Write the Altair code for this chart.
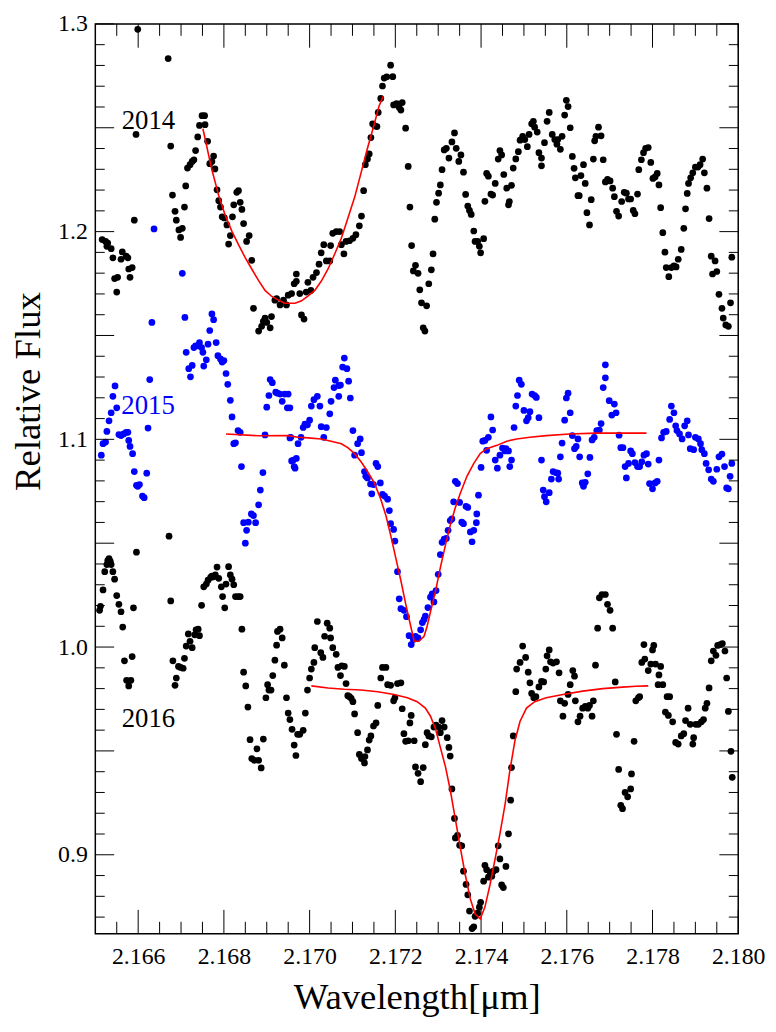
import altair as alt
import pandas as pd

# ---------------- data ----------------
spec_2014 = [
(2.16516,1.1962),(2.16524,1.1953),(2.16529,1.1945),(2.16527,1.1929),(2.16537,1.1918),(2.16541,1.1874),(2.16545,1.1774),(2.16552,1.1780),(2.16550,1.1709),(2.16560,1.1867),
(2.16563,1.1902),(2.16572,1.1882),(2.16576,1.1874),(2.16578,1.1820),(2.16586,1.1827),(2.16581,1.1780),(2.16591,1.2055),(2.16595,1.2468),(2.16599,1.2974),(2.16670,1.2833),
(2.16676,1.2412),(2.16680,1.2176),(2.16686,1.2098),(2.16689,1.2055),(2.16695,1.2008),(2.16699,1.1972),(2.16703,1.2016),(2.16708,1.2118),(2.16711,1.2220),(2.16715,1.2306),
(2.16721,1.2322),(2.16726,1.2338),(2.16730,1.2346),(2.16734,1.2390),(2.16739,1.2456),(2.16743,1.2511),(2.16749,1.2558),(2.16755,1.2558),(2.16756,1.2515),(2.16762,1.2435),
(2.16767,1.2327),(2.16772,1.2338),(2.16776,1.2364),(2.16779,1.2302),(2.16784,1.2201),(2.16788,1.2149),(2.16792,1.2118),(2.16796,1.2071),(2.16801,1.2066),(2.16807,1.2032),
(2.16811,1.1940),(2.16815,1.1981),(2.16820,1.2071),(2.16823,1.2129),(2.16830,1.2189),(2.16834,1.2197),(2.16838,1.2141),(2.16842,1.2107),(2.16846,1.2039),(2.16853,1.1953),
(2.16859,1.1981),(2.16865,1.1862),(2.16869,1.1631),(2.16881,1.1521),(2.16888,1.1544),(2.16892,1.1568),(2.16896,1.1584),(2.16900,1.1563),(2.16908,1.1537),(2.16911,1.1591),
(2.16919,1.1670),(2.16923,1.1678),(2.16931,1.1647),(2.16939,1.1670),(2.16946,1.1647),(2.16950,1.1694),(2.16958,1.1702),(2.16964,1.1749),(2.16969,1.1796),(2.16969,1.1761),
(2.16977,1.1702),(2.16981,1.1599),(2.16987,1.1579),(2.16992,1.1709),(2.16996,1.1756),(2.17003,1.1717),(2.17008,1.1780),(2.17016,1.1803),(2.17022,1.1843),(2.17027,1.1898),
(2.17033,1.1937),(2.17039,1.1859),(2.17047,1.1859),(2.17049,1.1933),(2.17054,1.1992),(2.17062,1.2000),(2.17070,1.2000),(2.17074,1.1937),(2.17080,1.1893),(2.17085,1.1953),
(2.17093,1.1956),(2.17101,1.1968),(2.17108,1.1985),(2.17116,1.2028),(2.17121,1.2075),(2.17126,1.2197),(2.17130,1.2322),(2.17135,1.2349),(2.17139,1.2374),(2.17143,1.2453),
(2.17147,1.2519),(2.17152,1.2509),(2.17157,1.2506),(2.17160,1.2574),(2.17166,1.2641),(2.17170,1.2701),(2.17174,1.2739),(2.17180,1.2745),(2.17189,1.2801),(2.17194,1.2746),
(2.17196,1.2610),(2.17203,1.2616),(2.17209,1.2597),(2.17213,1.2585),(2.17216,1.2621),(2.17224,1.2498),(2.17230,1.2314),(2.17234,1.2118),(2.17238,1.1933),(2.17242,1.1811),
(2.17247,1.1838),(2.17253,1.1799),(2.17257,1.1720),(2.17261,1.1657),(2.17265,1.1537),(2.17269,1.1521),(2.17273,1.1643),(2.17278,1.1749),(2.17284,1.1816),(2.17288,1.1893),
(2.17292,1.2060),(2.17296,1.2141),(2.17301,1.2185),(2.17305,1.2225),(2.17309,1.2298),(2.17314,1.2393),(2.17319,1.2401),(2.17325,1.2354),(2.17332,1.2432),(2.17338,1.2475),
(2.17342,1.2401),(2.17348,1.2338),(2.17353,1.2369),(2.17359,1.2286),(2.17364,1.2179),(2.17369,1.2123),(2.17373,1.2102),(2.17377,1.2083),(2.17383,1.2003),(2.17386,1.1953),
(2.17392,1.1953),(2.17396,1.1929),(2.17399,1.1898),(2.17406,1.1966),(2.17409,1.2146),(2.17413,1.2280),(2.17417,1.2267),(2.17423,1.2181),(2.17427,1.2176),(2.17433,1.2232),
(2.17440,1.2349),(2.17444,1.2390),(2.17448,1.2369),(2.17453,1.2275),(2.17460,1.2209),(2.17464,1.2129),(2.17466,1.2145),(2.17471,1.2223),(2.17475,1.2306),(2.17481,1.2350),
(2.17487,1.2385),(2.17491,1.2440),(2.17497,1.2459),(2.17502,1.2443),(2.17508,1.2409),(2.17512,1.2468),(2.17518,1.2519),(2.17522,1.2531),(2.17525,1.2503),(2.17531,1.2479),
(2.17535,1.2380),(2.17541,1.2354),(2.17541,1.2317),(2.17548,1.2428),(2.17554,1.2531),(2.17559,1.2574),(2.17566,1.2468),(2.17572,1.2443),(2.17577,1.2421),(2.17579,1.2443),
(2.17585,1.2396),(2.17589,1.2459),(2.17595,1.2561),(2.17599,1.2632),(2.17603,1.2602),(2.17608,1.2500),(2.17613,1.2362),(2.17617,1.2305),(2.17620,1.2259),(2.17626,1.2173),
(2.17629,1.2173),(2.17633,1.2270),(2.17639,1.2322),(2.17643,1.2232),(2.17647,1.2091),(2.17653,1.2032),(2.17657,1.2154),(2.17662,1.2349),(2.17665,1.2437),(2.17668,1.2459),
(2.17674,1.2503),(2.17680,1.2461),(2.17685,1.2346),(2.17690,1.2239),(2.17695,1.2251),(2.17701,1.2244),(2.17707,1.2209),(2.17711,1.2168),(2.17716,1.2098),(2.17721,1.2075),
(2.17728,1.2145),(2.17734,1.2189),(2.17739,1.2185),(2.17744,1.2157),(2.17749,1.2157),(2.17755,1.2102),(2.17759,1.2086),(2.17765,1.2181),(2.17768,1.2298),(2.17774,1.2346),
(2.17779,1.2380),(2.17784,1.2401),(2.17790,1.2405),(2.17796,1.2333),(2.17801,1.2256),(2.17806,1.2263),(2.17811,1.2280),(2.17815,1.2225),(2.17819,1.2115),(2.17824,1.1995),
(2.17829,1.1901),(2.17832,1.1827),(2.17838,1.1783),(2.17844,1.1827),(2.17850,1.1835),(2.17855,1.1830),(2.17860,1.1867),(2.17867,1.1914),(2.17873,1.2016),(2.17877,1.2110),
(2.17881,1.2184),(2.17884,1.2232),(2.17889,1.2259),(2.17894,1.2283),(2.17900,1.2311),(2.17906,1.2311),(2.17911,1.2322),(2.17917,1.2349),(2.17921,1.2283),(2.17927,1.2209),
(2.17932,1.2063),(2.17937,1.1882),(2.17940,1.1796),(2.17946,1.1859),(2.17950,1.1808),(2.17955,1.1698),(2.17962,1.1631),(2.17965,1.1584),(2.17971,1.1551),(2.17977,1.1544),
(2.17982,1.1657),(2.17985,1.1877),
]

spec_2015 = [
(2.16514,1.0924),(2.16518,1.0979),(2.16524,1.0987),(2.16527,1.1038),(2.16532,1.1089),(2.16537,1.1128),(2.16541,1.1207),(2.16546,1.1257),(2.16550,1.1152),(2.16555,1.1023),
(2.16560,1.1018),(2.16566,1.1026),(2.16572,1.1034),(2.16576,1.1034),(2.16578,1.0995),(2.16581,1.0966),(2.16587,1.0931),(2.16591,1.0845),(2.16596,1.0779),(2.16599,1.0774),
(2.16603,1.0782),(2.16610,1.0727),(2.16614,1.0719),(2.16620,1.0837),(2.16623,1.1054),(2.16627,1.1288),(2.16632,1.1563),(2.16637,1.2013),(2.16703,1.1799),(2.16709,1.1587),
(2.16712,1.1419),(2.16718,1.1340),(2.16722,1.1301),(2.16726,1.1356),(2.16730,1.1442),(2.16734,1.1450),(2.16740,1.1450),(2.16743,1.1466),(2.16748,1.1442),(2.16751,1.1419),
(2.16753,1.1353),(2.16759,1.1383),(2.16763,1.1458),(2.16767,1.1524),(2.16772,1.1604),(2.16776,1.1576),(2.16782,1.1466),(2.16786,1.1403),(2.16792,1.1387),(2.16796,1.1372),
(2.16800,1.1379),(2.16805,1.1317),(2.16809,1.1265),(2.16815,1.1188),(2.16819,1.1108),(2.16823,1.0979),(2.16827,1.0983),(2.16833,1.1042),(2.16838,1.1034),(2.16841,1.0869),
(2.16846,1.0599),(2.16850,1.0500),(2.16853,1.0562),(2.16857,1.0601),(2.16864,1.0641),(2.16869,1.0633),(2.16874,1.0599),(2.16881,1.0685),(2.16885,1.0756),(2.16891,1.0840),
(2.16896,1.1021),(2.16900,1.1155),(2.16905,1.1211),(2.16908,1.1288),(2.16913,1.1273),(2.16921,1.1227),(2.16925,1.1222),(2.16931,1.1218),(2.16936,1.1183),(2.16942,1.1218),
(2.16948,1.1152),(2.16950,1.1218),(2.16954,1.1152),(2.16954,1.1007),(2.16956,1.1010),(2.16958,1.0896),(2.16962,1.0900),(2.16964,1.0869),(2.16966,1.0861),(2.16969,1.0908),
(2.16973,1.0979),(2.16980,1.1010),(2.16985,1.1057),(2.16989,1.1073),(2.16995,1.1070),(2.17000,1.1092),(2.17004,1.1160),(2.17010,1.1191),(2.17018,1.1207),(2.17024,1.1160),
(2.17027,1.1061),(2.17033,1.1010),(2.17039,1.1057),(2.17047,1.1123),(2.17050,1.1183),(2.17057,1.1249),(2.17060,1.1285),(2.17068,1.1207),(2.17068,1.1259),(2.17072,1.1261),
(2.17077,1.1348),(2.17081,1.1391),(2.17087,1.1340),(2.17091,1.1280),(2.17095,1.1199),(2.17101,1.1042),(2.17105,1.0924),(2.17112,1.0979),(2.17118,1.1002),(2.17121,1.0936),
(2.17128,1.0845),(2.17131,1.0822),(2.17135,1.0814),(2.17142,1.0785),(2.17145,1.0738),(2.17149,1.0782),(2.17155,1.0884),(2.17159,1.0869),(2.17165,1.0790),(2.17170,1.0735),
(2.17175,1.0727),(2.17182,1.0712),(2.17186,1.0657),(2.17189,1.0594),(2.17196,1.0566),(2.17199,1.0510),(2.17205,1.0363),(2.17209,1.0232),(2.17213,1.0185),(2.17220,1.0177),
(2.17226,1.0146),(2.17232,1.0055),(2.17237,1.0012),(2.17242,1.0036),(2.17247,1.0052),(2.17253,1.0044),(2.17259,1.0083),(2.17263,1.0118),(2.17267,1.0133),(2.17270,1.0149),
(2.17276,1.0190),(2.17282,1.0240),(2.17286,1.0256),(2.17290,1.0217),(2.17295,1.0272),(2.17300,1.0350),(2.17305,1.0445),(2.17309,1.0504),(2.17314,1.0520),(2.17319,1.0523),
(2.17323,1.0562),(2.17328,1.0609),(2.17332,1.0617),(2.17336,1.0699),(2.17340,1.0798),(2.17345,1.0787),(2.17350,1.0696),(2.17355,1.0601),(2.17359,1.0594),(2.17365,1.0677),
(2.17369,1.0672),(2.17375,1.0554),(2.17379,1.0507),(2.17383,1.0562),(2.17389,1.0599),(2.17390,1.0641),(2.17394,1.0731),(2.17400,1.0865),(2.17404,1.0991),(2.17409,1.0995),
(2.17413,1.0947),(2.17417,1.1010),(2.17423,1.1108),(2.17427,1.1045),(2.17433,1.0900),(2.17438,1.0861),(2.17444,1.0924),(2.17450,1.0958),(2.17456,1.0944),(2.17458,1.0955),
(2.17464,1.0944),(2.17467,1.0869),(2.17471,1.0900),(2.17477,1.1057),(2.17481,1.1160),(2.17485,1.1211),(2.17489,1.1285),(2.17494,1.1265),(2.17500,1.1139),(2.17506,1.1089),
(2.17510,1.1104),(2.17514,1.1133),(2.17519,1.1218),(2.17525,1.1211),(2.17529,1.1202),(2.17535,1.1104),(2.17541,1.0900),(2.17545,1.0756),(2.17548,1.0724),(2.17552,1.0699),
(2.17559,1.0743),(2.17564,1.0809),(2.17568,1.0845),(2.17574,1.0840),(2.17579,1.0837),(2.17581,1.0809),(2.17585,1.0916),(2.17589,1.0982),(2.17595,1.1092),(2.17599,1.1199),
(2.17603,1.1222),(2.17608,1.1128),(2.17613,1.1018),(2.17618,1.0955),(2.17622,1.0966),(2.17626,1.1002),(2.17630,1.0916),(2.17636,1.0790),(2.17639,1.0774),(2.17643,1.0793),
(2.17649,1.0834),(2.17654,1.0913),(2.17659,1.0997),(2.17664,1.1010),(2.17670,1.1042),(2.17676,1.1045),(2.17680,1.1076),(2.17685,1.1249),(2.17690,1.1296),(2.17690,1.1359),
(2.17699,1.1186),(2.17705,1.1117),(2.17711,1.1170),(2.17715,1.1128),(2.17722,1.1020),(2.17726,1.0960),(2.17731,1.0960),(2.17736,1.0869),(2.17739,1.0814),(2.17744,1.0884),
(2.17749,1.0944),(2.17753,1.0931),(2.17759,1.0888),(2.17765,1.0869),(2.17770,1.0869),(2.17775,1.0892),(2.17780,1.0924),(2.17786,1.0931),(2.17790,1.0881),(2.17793,1.0787),
(2.17800,1.0762),(2.17806,1.0790),(2.17811,1.0798),(2.17815,1.0900),(2.17821,1.1007),(2.17826,1.1034),(2.17832,1.1038),(2.17840,1.1096),(2.17844,1.1160),(2.17850,1.1128),
(2.17854,1.1065),(2.17857,1.1042),(2.17863,1.1026),(2.17869,1.1002),(2.17875,1.1065),(2.17881,1.1089),(2.17884,1.1021),(2.17888,1.0955),(2.17896,1.0950),(2.17900,1.1010),
(2.17907,1.1002),(2.17912,1.0979),(2.17915,1.0950),(2.17921,1.0931),(2.17925,1.0884),(2.17931,1.0853),(2.17937,1.0809),(2.17942,1.0798),(2.17950,1.0856),(2.17955,1.0916),
(2.17962,1.0929),(2.17968,1.0869),(2.17973,1.0766),(2.17977,1.0762),(2.17981,1.0822),(2.17985,1.0884),
]

spec_2016 = [
(2.16510,1.0177),(2.16512,1.0196),(2.16518,1.0275),(2.16522,1.0363),(2.16527,1.0397),(2.16529,1.0416),(2.16532,1.0426),(2.16535,1.0413),(2.16537,1.0397),(2.16541,1.0363),
(2.16545,1.0327),(2.16550,1.0248),(2.16555,1.0206),(2.16560,1.0170),(2.16564,1.0096),(2.16568,0.9934),(2.16573,0.9840),(2.16578,0.9813),(2.16583,0.9840),(2.16586,0.9954),
(2.16589,1.0189),(2.16596,1.0457),(2.16672,1.0534),(2.16676,1.0222),(2.16681,0.9934),(2.16686,0.9816),(2.16689,0.9851),(2.16694,0.9907),(2.16699,0.9902),(2.16705,0.9898),
(2.16708,0.9946),(2.16712,1.0005),(2.16717,1.0063),(2.16721,1.0028),(2.16726,0.9997),(2.16732,1.0059),(2.16735,1.0083),(2.16740,1.0086),(2.16743,1.0055),(2.16748,1.0201),
(2.16753,1.0290),(2.16759,1.0303),(2.16763,1.0322),(2.16769,1.0335),(2.16772,1.0342),(2.16776,1.0338),(2.16780,1.0347),(2.16784,1.0385),(2.16788,1.0331),(2.16794,1.0290),
(2.16797,1.0243),(2.16802,1.0189),(2.16805,1.0303),(2.16811,1.0387),(2.16815,1.0347),(2.16819,1.0327),(2.16823,1.0300),(2.16827,1.0243),(2.16833,1.0243),(2.16838,1.0243),
(2.16842,1.0086),(2.16846,0.9879),(2.16851,0.9813),(2.16856,0.9711),(2.16861,0.9554),(2.16865,0.9463),(2.16871,0.9455),(2.16877,0.9510),(2.16881,0.9455),(2.16887,0.9418),
(2.16892,0.9557),(2.16898,0.9756),(2.16902,0.9819),(2.16905,0.9793),(2.16910,0.9793),(2.16914,0.9863),(2.16919,0.9937),(2.16923,1.0009),(2.16925,1.0075),(2.16931,1.0086),
(2.16936,1.0044),(2.16941,0.9913),(2.16946,0.9756),(2.16950,0.9682),(2.16954,0.9651),(2.16959,0.9604),(2.16964,0.9528),(2.16968,0.9478),(2.16972,0.9580),(2.16977,0.9580),
(2.16985,0.9599),(2.16990,0.9682),(2.16995,0.9793),(2.17000,0.9851),(2.17004,0.9894),(2.17010,0.9926),(2.17012,0.9997),(2.17018,1.0123),(2.17026,0.9973),(2.17031,0.9950),
(2.17035,1.0052),(2.17041,1.0115),(2.17047,1.0091),(2.17049,1.0044),(2.17054,0.9997),(2.17062,0.9965),(2.17066,0.9902),(2.17072,0.9863),(2.17075,0.9910),(2.17081,0.9907),
(2.17085,0.9824),(2.17089,0.9766),(2.17093,0.9761),(2.17097,0.9753),(2.17101,0.9737),(2.17105,0.9678),(2.17112,0.9588),(2.17116,0.9483),(2.17121,0.9463),(2.17128,0.9442),
(2.17129,0.9473),(2.17135,0.9505),(2.17139,0.9552),(2.17143,0.9572),(2.17149,0.9620),(2.17155,0.9635),(2.17159,0.9719),(2.17166,0.9851),(2.17170,0.9902),(2.17178,0.9902),
(2.17182,0.9819),(2.17189,0.9816),(2.17196,0.9741),(2.17199,0.9756),(2.17205,0.9824),(2.17213,0.9828),(2.17216,0.9703),(2.17220,0.9583),(2.17224,0.9546),(2.17230,0.9549),
(2.17234,0.9635),(2.17237,0.9671),(2.17244,0.9549),(2.17247,0.9423),(2.17253,0.9392),(2.17259,0.9352),(2.17265,0.9420),(2.17270,0.9530),(2.17274,0.9588),(2.17278,0.9572),
(2.17284,0.9568),(2.17290,0.9615),(2.17295,0.9624),(2.17301,0.9615),(2.17305,0.9588),(2.17309,0.9646),(2.17314,0.9615),(2.17321,0.9564),(2.17325,0.9517),(2.17328,0.9475),
(2.17332,0.9317),(2.17338,0.9175),(2.17340,0.9081),(2.17345,0.9093),(2.17350,0.9046),(2.17355,0.9043),(2.17359,0.8921),(2.17365,0.8857),(2.17369,0.8807),(2.17373,0.8729),
(2.17379,0.8645),(2.17383,0.8653),(2.17386,0.8704),(2.17392,0.8719),(2.17396,0.8748),(2.17399,0.8771),(2.17406,0.8873),(2.17409,0.8949),(2.17413,0.8928),(2.17417,0.8892),
(2.17421,0.8917),(2.17425,0.8897),(2.17429,0.8921),(2.17435,0.8928),(2.17440,0.9043),(2.17444,0.8980),(2.17448,0.8855),(2.17452,0.8842),(2.17458,0.8944),(2.17464,0.9101),
(2.17469,0.9263),(2.17471,0.9420),(2.17475,0.9572),(2.17481,0.9785),(2.17483,0.9894),(2.17491,0.9926),(2.17497,1.0005),(2.17504,0.9950),(2.17510,0.9879),(2.17514,0.9828),
(2.17518,0.9777),(2.17523,0.9756),(2.17528,0.9761),(2.17535,0.9808),(2.17541,0.9835),(2.17546,0.9832),(2.17551,0.9894),(2.17554,0.9958),(2.17559,0.9986),(2.17562,0.9929),
(2.17568,0.9923),(2.17576,0.9929),(2.17582,0.9876),(2.17585,0.9741),(2.17591,0.9667),(2.17595,0.9729),(2.17603,0.9772),(2.17608,0.9819),(2.17614,0.9887),(2.17618,0.9860),
(2.17620,0.9741),(2.17626,0.9640),(2.17631,0.9667),(2.17637,0.9706),(2.17643,0.9714),(2.17649,0.9706),(2.17653,0.9719),(2.17659,0.9667),(2.17662,0.9741),(2.17667,0.9913),
(2.17672,1.0091),(2.17676,1.0237),(2.17682,1.0253),(2.17690,1.0253),(2.17695,1.0206),(2.17701,1.0177),(2.17707,1.0091),(2.17713,0.9832),(2.17716,0.9580),(2.17721,0.9411),
(2.17726,0.9238),(2.17730,0.9222),(2.17736,0.9300),(2.17742,0.9279),(2.17749,0.9317),(2.17751,0.9389),(2.17757,0.9546),(2.17761,0.9741),(2.17767,0.9756),(2.17770,0.9761),
(2.17775,0.9926),(2.17780,1.0012),(2.17782,0.9942),(2.17790,0.9887),(2.17796,0.9918),(2.17800,0.9986),(2.17803,1.0008),(2.17807,0.9918),(2.17813,0.9819),(2.17815,0.9866),
(2.17819,0.9907),(2.17824,0.9819),(2.17830,0.9687),(2.17834,0.9761),(2.17837,0.9671),(2.17840,0.9761),(2.17847,0.9640),(2.17854,0.9541),(2.17860,0.9533),(2.17867,0.9572),
(2.17873,0.9583),(2.17877,0.9646),(2.17883,0.9706),(2.17888,0.9628),(2.17894,0.9533),(2.17896,0.9564),(2.17901,0.9628),(2.17907,0.9628),(2.17914,0.9640),(2.17919,0.9651),
(2.17923,0.9706),(2.17927,0.9729),(2.17932,0.9803),(2.17937,0.9934),(2.17942,0.9981),(2.17948,0.9960),(2.17952,1.0008),(2.17958,1.0012),(2.17963,1.0017),(2.17969,0.9981),
(2.17973,0.9851),(2.17977,0.9690),(2.17983,0.9498),(2.17986,0.9373),
]

# red fitted profiles
fit_2014 = [
(2.16751,1.2495),(2.16757,1.2440),(2.16765,1.2362),(2.16772,1.2298),(2.16780,1.2236),(2.16788,1.2173),(2.16803,1.2079),(2.16819,1.2000),(2.16834,1.1937),(2.16850,1.1874),
(2.16865,1.1820),(2.16881,1.1764),(2.16896,1.1717),(2.16911,1.1689),(2.16927,1.1670),(2.16942,1.1655),(2.16958,1.1655),(2.16966,1.1655),(2.16981,1.1667),(2.16996,1.1689),
(2.17012,1.1717),(2.17027,1.1761),(2.17043,1.1820),(2.17058,1.1890),(2.17074,1.1968),(2.17089,1.2063),(2.17105,1.2165),(2.17120,1.2283),(2.17135,1.2401),(2.17151,1.2519),
(2.17162,1.2605),(2.17172,1.2652),
]
fit_2015 = [
(2.16805,1.1026),(2.16881,1.1017),(2.16950,1.1018),(2.16973,1.1010),(2.16996,1.1007),(2.17027,1.1002),(2.17050,1.0991),(2.17074,1.0979),(2.17089,1.0960),(2.17105,1.0931),
(2.17120,1.0892),(2.17135,1.0845),(2.17151,1.0790),(2.17166,1.0712),(2.17178,1.0633),(2.17189,1.0539),(2.17201,1.0429),(2.17213,1.0319),(2.17224,1.0209),(2.17236,1.0099),
(2.17244,1.0028),(2.17255,1.0028),(2.17267,1.0052),(2.17274,1.0099),(2.17282,1.0170),(2.17294,1.0272),(2.17305,1.0382),(2.17317,1.0492),(2.17328,1.0586),(2.17340,1.0672),
(2.17352,1.0743),(2.17367,1.0822),(2.17383,1.0884),(2.17398,1.0931),(2.17413,1.0955),(2.17437,1.0971),(2.17460,1.0991),(2.17483,1.1002),(2.17514,1.1010),(2.17552,1.1018),
(2.17606,1.1026),(2.17668,1.1030),(2.17722,1.1030),(2.17786,1.1030),
]
fit_2016 = [
(2.17004,0.9813),(2.17043,0.9803),(2.17081,0.9797),(2.17120,0.9793),(2.17159,0.9785),(2.17197,0.9772),(2.17228,0.9756),(2.17251,0.9737),(2.17270,0.9706),(2.17282,0.9667),
(2.17294,0.9604),(2.17305,0.9517),(2.17317,0.9423),(2.17328,0.9313),(2.17340,0.9172),(2.17352,0.9030),(2.17363,0.8905),(2.17375,0.8787),(2.17386,0.8716),(2.17398,0.8692),
(2.17409,0.8748),(2.17421,0.8857),(2.17433,0.8983),(2.17444,0.9101),(2.17456,0.9243),(2.17467,0.9403),(2.17479,0.9549),(2.17491,0.9643),(2.17506,0.9706),(2.17525,0.9737),
(2.17552,0.9756),(2.17591,0.9772),(2.17637,0.9788),(2.17684,0.9800),(2.17730,0.9807),(2.17761,0.9811),(2.17790,0.9813),
]

years = ["2014", "2015", "2016"]
year_colors = ["#000000", "#0000ff", "#000000"]
year_label_x = [2.16624, 2.16623, 2.16624]
year_label_y = [1.2530, 1.1162, 0.9651]

x_label_values = [2.166, 2.168, 2.170, 2.172, 2.174, 2.176, 2.178, 2.180]
y_label_values = [0.9, 1.0, 1.1, 1.2, 1.3]
x_major_ticks = [2.166, 2.168, 2.170, 2.172, 2.174, 2.176, 2.178, 2.180]
x_minor_ticks = [2.1655, 2.1665, 2.167, 2.1675, 2.1685, 2.169, 2.1695, 2.1705, 2.171, 2.1715,
                 2.1725, 2.173, 2.1735, 2.1745, 2.175, 2.1755, 2.1765, 2.177, 2.1775,
                 2.1785, 2.179, 2.1795]
y_major_ticks = [0.9, 0.95, 1.0, 1.05, 1.1, 1.15, 1.2, 1.25, 1.3]
y_minor_ticks = [0.87, 0.88, 0.89, 0.91, 0.92, 0.93, 0.94, 0.96, 0.97, 0.98, 0.99,
                 1.01, 1.02, 1.03, 1.04, 1.06, 1.07, 1.08, 1.09, 1.11, 1.12, 1.13, 1.14,
                 1.16, 1.17, 1.18, 1.19, 1.21, 1.22, 1.23, 1.24, 1.26, 1.27, 1.28, 1.29]

# ---------------- build tables ----------------
rows = []
for yr, spec in zip(years, [spec_2014, spec_2015, spec_2016]):
    for w, f in spec:
        rows.append({"wavelength": w, "flux": f, "year": yr})
pts = pd.DataFrame(rows)

frows = []
for yr, fit in zip(years, [fit_2014, fit_2015, fit_2016]):
    for i, (w, f) in enumerate(fit):
        frows.append({"wavelength": w, "flux": f, "year": yr, "order": i})
fits = pd.DataFrame(frows)

labels = pd.DataFrame({"wavelength": year_label_x, "flux": year_label_y,
                       "text": years, "color": year_colors})

TOP = 12
W, H = 648, 929 - TOP
FONT = "Liberation Serif"

xscale = alt.Scale(domain=[2.165, 2.180], nice=False, zero=False)
yscale = alt.Scale(domain=[0.862, 1.300], nice=False, zero=False)

x_axis = alt.Axis(values=x_label_values, format=".3f", title="Wavelength[μm]",
                  ticks=False, tickSize=0, domain=False, grid=False,
                  labelFont=FONT, labelFontSize=24, labelColor="black", labelPadding=11,
                  labelFlush=False, labelOverlap=False,
                  titleFont=FONT, titleFontSize=37, titleFontWeight="normal", titleColor="black",
                  titleX=W / 2, titleY=75, titleBaseline="alphabetic", titleAlign="center")
y_axis = alt.Axis(values=y_label_values, format=".1f", title="Relative Flux",
                  ticks=False, tickSize=0, domain=False, grid=False,
                  labelFont=FONT, labelFontSize=24, labelColor="black", labelPadding=8,
                  labelFlush=False, labelOverlap=False,
                  titleFont=FONT, titleFontSize=37, titleFontWeight="normal", titleColor="black",
                  titleX=-56, titleY=382 - TOP, titleAngle=270, titleBaseline="alphabetic",
                  titleAlign="center")

points = alt.Chart(pts).mark_circle(size=46, opacity=1).encode(
    x=alt.X("wavelength:Q", scale=xscale, axis=x_axis),
    y=alt.Y("flux:Q", scale=yscale, axis=y_axis),
    color=alt.Color("year:N", scale=alt.Scale(domain=years, range=year_colors), legend=None),
)

lines = alt.Chart(fits).mark_line(color="#ff0000", strokeWidth=1.6).encode(
    x=alt.X("wavelength:Q", scale=xscale),
    y=alt.Y("flux:Q", scale=yscale),
    detail="year:N",
    order="order:Q",
)

texts = alt.Chart(labels).mark_text(font=FONT, fontSize=27, align="center",
                                    baseline="middle").encode(
    x=alt.X("wavelength:Q", scale=xscale),
    y=alt.Y("flux:Q", scale=yscale),
    text="text:N",
    color=alt.Color("color:N", scale=None),
)

def yticks(vals, x0, x1):
    return alt.Chart(pd.DataFrame({"flux": vals})).mark_rule(color="black", strokeWidth=1).encode(
        y=alt.Y("flux:Q", scale=yscale), x=alt.value(x0), x2=alt.value(x1))

def xticks(vals, y0, y1):
    return alt.Chart(pd.DataFrame({"wavelength": vals})).mark_rule(color="black", strokeWidth=1).encode(
        x=alt.X("wavelength:Q", scale=xscale), y=alt.value(y0), y2=alt.value(y1))

ticks = [
    yticks(y_major_ticks, 0, 19), yticks(y_minor_ticks, 0, 9.5),
    yticks(y_major_ticks, W, W - 19), yticks(y_minor_ticks, W, W - 9.5),
    xticks(x_major_ticks, 0, 24), xticks(x_minor_ticks, 0, 12),
    xticks(x_major_ticks, H, H - 24), xticks(x_minor_ticks, H, H - 12),
]

chart = alt.layer(points, *ticks, lines, texts).properties(
    width=W, height=H,
    autosize=alt.AutoSizeParams(type="none"),
    padding={"left": 88, "top": TOP, "right": 30, "bottom": 90},
).configure(
    font=FONT,
    style={"guide-label": {"font": FONT}, "guide-title": {"font": FONT}},
).configure_view(stroke="black", strokeWidth=1.5).configure_axis(
    labelFont=FONT, titleFont=FONT, labelFontSize=24, titleFontSize=37,
    titleFontWeight="normal", labelColor="black", titleColor="black"
).configure_text(font=FONT)

chart.save("out.html", embed_options={"renderer": "svg", "actions": False})
